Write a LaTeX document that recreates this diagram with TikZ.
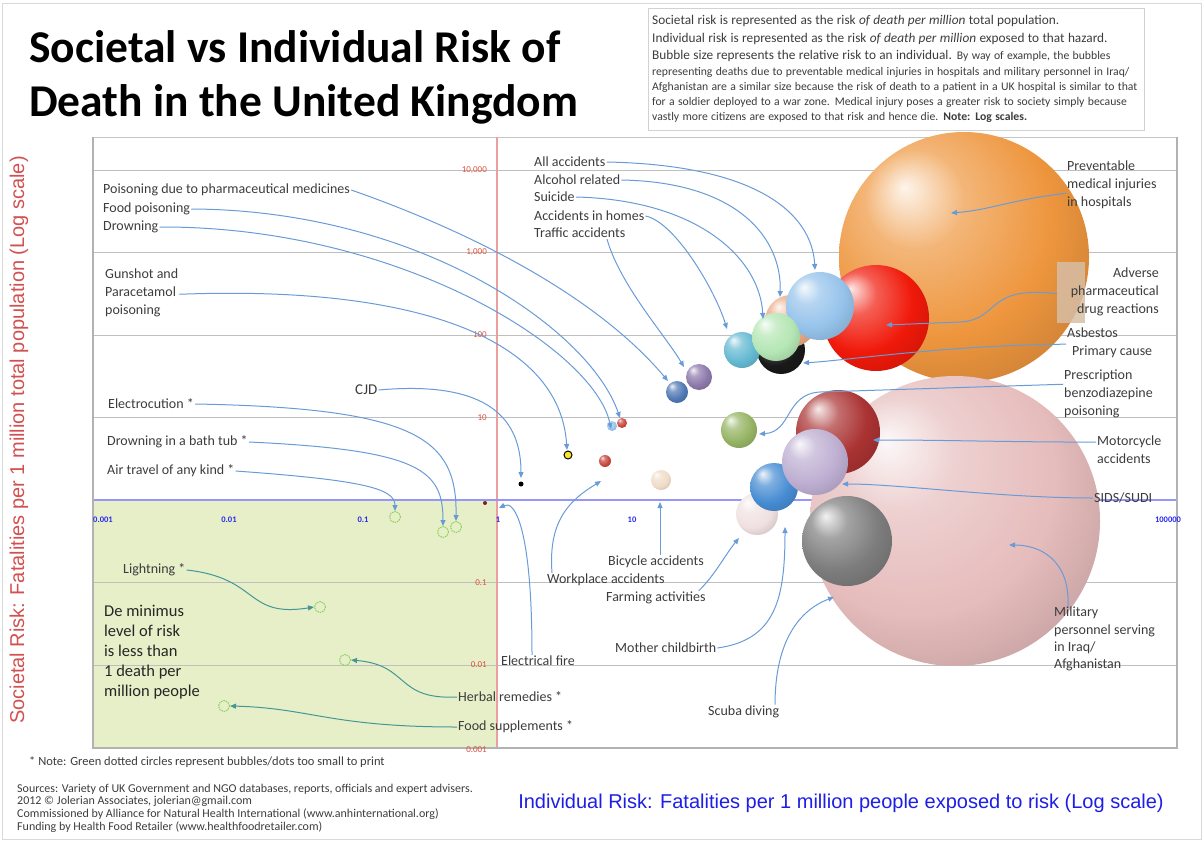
\documentclass[tikz,border=0pt]{standalone}
\usepackage{fontspec}
\setmainfont{Carlito}
\newfontfamily\arialfont{Liberation Sans}
\usetikzlibrary{arrows.meta}
\setlength{\parindent}{0pt}

\definecolor{arrblue}{RGB}{105,155,215}
\definecolor{arrteal}{RGB}{70,150,150}
\definecolor{dotgreen}{RGB}{140,210,90}
\definecolor{zonegreen}{RGB}{230,239,200}
\definecolor{axisblue}{RGB}{150,150,250}
\definecolor{axisred}{RGB}{235,160,160}
\definecolor{tickblue}{RGB}{40,40,240}
\definecolor{tickred}{RGB}{220,80,60}
\definecolor{ytitlered}{RGB}{210,80,80}
\definecolor{xtitleblue}{RGB}{30,30,230}
\definecolor{labeltext}{RGB}{60,60,60}
\definecolor{tanbox}{RGB}{215,190,165}
% bubble colours
\definecolor{cOrange}{RGB}{238,150,62}
\definecolor{cPink}{RGB}{230,188,188}
\definecolor{cRed}{RGB}{240,25,10}
\definecolor{cSky}{RGB}{150,195,235}
\definecolor{cPeach}{RGB}{235,170,130}
\definecolor{cMint}{RGB}{180,230,180}
\definecolor{cBlack}{RGB}{25,25,25}
\definecolor{cTeal}{RGB}{100,185,210}
\definecolor{cPurple}{RGB}{140,120,170}
\definecolor{cSteel}{RGB}{80,120,180}
\definecolor{cOlive}{RGB}{150,180,100}
\definecolor{cMaroon}{RGB}{170,50,50}
\definecolor{cLavender}{RGB}{190,175,210}
\definecolor{cBlue}{RGB}{70,140,210}
\definecolor{cShell}{RGB}{240,225,225}
\definecolor{cGrey}{RGB}{125,125,125}
\definecolor{cBeige}{RGB}{240,220,200}
\definecolor{cBrick}{RGB}{200,70,60}
\definecolor{cYellow}{RGB}{250,230,40}

\colorlet{bubcol}{cOrange}
\pgfdeclareradialshading[bubcol]{bubble}{\pgfqpoint{-12bp}{14bp}}{%
  color(0bp)=(bubcol!10!white); color(10bp)=(bubcol!70!white);
  color(24bp)=(bubcol); color(40bp)=(bubcol!80!black); color(56bp)=(bubcol!45!black)}

\tikzset{
  lbl/.style={font=\fontsize{14}{18}\selectfont, text=labeltext, inner sep=1pt, anchor=west},
  lblblock/.style={lbl, align=left, anchor=north west},
  arr/.style={draw=arrblue, line width=1pt, -{Triangle[length=6pt,width=5pt]}},
  arrg/.style={arr, draw=arrteal},
  gdot/.style={circle, draw=dotgreen, line width=1pt, dash pattern=on 1.6pt off 0.9pt,
    minimum size=11pt, inner sep=0pt},
  grid line/.style={draw=gray!50, line width=1pt},
  xtick/.style={font=\fontsize{8.5}{9}\selectfont\bfseries, text=tickblue, inner sep=0pt},
  ytick/.style={font=\fontsize{9}{10}\selectfont, text=tickred, inner sep=0pt, anchor=east},
  foot/.style={font=\fontsize{12}{13}\selectfont, text=labeltext, inner sep=0pt, anchor=west}
}

\begin{document}
\begin{tikzpicture}[x=1pt,y=-1pt]
\useasboundingbox (0,0) rectangle (1204,843);
\draw[gray!30] (2,3) rectangle (1201,839);

% title and note
\node[anchor=north west, align=left, inner sep=0pt,
      font=\fontsize{45.5}{54}\selectfont\bfseries] (title) at (29,30)
  {Societal vs Individual Risk of\\Death in the United Kingdom};
\node[draw=gray!35, anchor=north west, text width=488pt, minimum height=122pt,
      inner sep=4pt, align=left, text=labeltext] (note) at (648,8)
  {{\fontsize{13.3}{17.5}\selectfont Societal risk is represented as the risk \textit{of death per million} total population.\\
   Individual risk is represented as the risk \textit{of death per million} exposed to that hazard.\\
   Bubble size represents the relative risk to an individual. {\fontsize{11.7}{0}\selectfont By way of example, the bubbles}\par}
   {\fontsize{11.7}{15.3}\selectfont representing deaths due to preventable medical injuries in hospitals and military personnel in Iraq/\\
   Afghanistan are a similar size because the risk of death to a patient in a UK hospital is similar to that\\
   for a soldier deployed to a war zone. Medical injury poses a greater risk to society simply because\\
   vastly more citizens are exposed to that risk and hence die. \textbf{Note: Log scales.}\par}};

% plot area
\fill[zonegreen] (93,500) rectangle (497,748);
\foreach \gy in {170,252.5,335,417.5,582.5,665}
  \draw[grid line] (93,\gy) -- (1177,\gy);
\draw[gray!45, line width=0.8pt] (93,137) -- (1177,137);
\draw[axisred, line width=1.5pt] (497,137) -- (497,748);
\draw[axisblue, line width=2.5pt] (93,500) -- (1177,500);
\draw[gray!60, line width=2.5pt] (93,137) -- (93,748) -- (1177,748) -- (1177,137);

% axis ticks
\foreach \tx/\tl [count=\k] in {103/0.001, 229/0.01, 363/0.1, 498/1, 632/10,
    767/100, 901/{1,000}, 1035/{10,000}, 1168/100000}
  \node[xtick] (xt\k) at (\tx,520) {\tl};
\foreach \ty/\tl [count=\k] in {170/{10,000}, 252.5/{1,000}, 335/100, 417.5/10,
    582.5/0.1, 665/0.01, 750/0.001}
  \node[ytick] (yt\k) at (487,\ty) {\tl};

% axis titles
\node[rotate=90, font=\arialfont\fontsize{20}{22}\selectfont, text=ytitlered] (ytitle) at (19,440)
  {Societal Risk: Fatalities per 1 million total population (Log scale)};
\node[font=\arialfont\fontsize{20}{22}\selectfont, text=xtitleblue] (xtitle) at (841,803)
  {Individual Risk: Fatalities per 1 million people exposed to risk (Log scale)};

% bubbles, back to front
\foreach \bx/\by/\br/\bc in {964/257/125/cOrange, 955/521/145/cPink,
    876/318/53/cRed, 781/350/24/cBlack, 791/321/26/cPeach, 820/306/34/cSky,
    742/350/18/cTeal, 776/337/24/cMint, 699/377/13/cPurple, 677/392/11/cSteel,
    739/430/18/cOlive, 838/432/42/cMaroon, 757/514/21/cShell, 774/487/24/cBlue,
    815/462/33/cLavender, 847/541/45/cGrey, 661/480/10/cBeige, 605/461/6/cBrick,
    612/426/5/cSky, 622/423/5/cBrick}
  {\colorlet{bubcol}{\bc}
   \shade[shading=bubble] (\bx,\by) circle (\br pt);}
\filldraw[fill=cYellow, draw=black, line width=1pt] (568,455) circle (4pt);
\fill[black] (521,484) circle (2.5pt);
\fill[cMaroon!70!black] (485,503) circle (2pt);
\node[fill=tanbox, opacity=.85, minimum width=28pt, minimum height=61pt, inner sep=0pt,
      anchor=north west] (advbox) at (1057,262) {};

% dots too small to print
\node[gdot] (dair) at (395,517) {};
\node[gdot] (dbath) at (443,532) {};
\node[gdot] (delec) at (456,527) {};
\node[gdot] (dlight) at (320,607) {};
\node[gdot] (dherb) at (345,660) {};
\node[gdot] (dsupp) at (224,706) {};

% arrow targets
\coordinate (tall) at (815,270);
\coordinate (talc) at (780,297);
\coordinate (tsui) at (763,319);
\coordinate (thome) at (727,329);
\coordinate (ttraf) at (684,367);
\coordinate (tpois) at (668,381);
\coordinate (tfood) at (620,418);
\coordinate (tdrown) at (611,429);
\coordinate (tgun) at (567,450);
\coordinate (tcjd) at (521,478);
\coordinate (tfire) at (499,508);
\coordinate (twork) at (601,481);
\coordinate (tbike) at (660,502);
\coordinate (tfarm) at (739,538);
\coordinate (tmother) at (785,527);
\coordinate (tscuba) at (834,597);
\coordinate (tprev) at (951,213);
\coordinate (tadv) at (886,325);
\coordinate (tasb) at (803,363);
\coordinate (tbenzo) at (759,434);
\coordinate (tmoto) at (873,440);
\coordinate (tsids) at (842,484);
\coordinate (tmil) at (1009,545);

% labels
\node[lbl] (lall) at (533,162) {All accidents};
\node[lbl] (lalc) at (533,180) {Alcohol related};
\node[lbl] (lsui) at (533,197) {Suicide};
\node[lbl] (lhome) at (533,216) {Accidents in homes};
\node[lbl] (ltraf) at (533,233) {Traffic accidents};
\node[lbl] (lpois) at (102,190) {Poisoning due to pharmaceutical medicines};
\node[lbl] (lfood) at (102,209) {Food poisoning};
\node[lbl] (ldrown) at (102,227) {Drowning};
\node[lblblock] (lgun) at (104,268) {Gunshot and\\Paracetamol\\poisoning};
\node[lbl, font=\fontsize{15}{16}\selectfont] (lcjd) at (354,390) {CJD};
\node[lbl] (lelec) at (107,404) {Electrocution *};
\node[lbl] (lbath) at (106,442) {Drowning in a bath tub *};
\node[lbl] (lair) at (106,471) {Air travel of any kind *};
\node[lbl] (llight) at (122,570) {Lightning *};
\node[lblblock, font=\fontsize{16.5}{20}\selectfont, text=black!85] (lmin) at (103,604)
  {De minimus\\level of risk\\is less than\\1 death per\\million people};
\node[lbl] (lherb) at (457,697) {Herbal remedies *};
\node[lbl] (lsupp) at (457,727) {Food supplements *};
\node[lbl] (lfire) at (500,661) {Electrical fire};
\node[lbl] (lwork) at (546,580) {Workplace accidents};
\node[lbl] (lbike) at (607,562) {Bicycle accidents};
\node[lbl] (lfarm) at (605,598) {Farming activities};
\node[lbl] (lmother) at (614,648) {Mother childbirth};
\node[lbl] (lscuba) at (707,712) {Scuba diving};
\node[lblblock] (lprev) at (1066,160) {Preventable\\medical injuries\\in hospitals};
\node[lblblock, align=right, anchor=north east] (ladv) at (1160,267) {Adverse\\pharmaceutical\\drug reactions};
\node[lblblock] (lasb) at (1066,327) {Asbestos\\\hspace*{5pt}Primary cause};
\node[lblblock] (lbenzo) at (1063,369) {Prescription\\benzodiazepine\\poisoning};
\node[lblblock] (lmoto) at (1096,435) {Motorcycle\\accidents};
\node[lbl] (lsids) at (1093,498) {SIDS/SUDI};
\node[lblblock, font=\fontsize{14}{17.3}\selectfont] (lmil) at (1053,606) {Military\\personnel serving\\in Iraq/\\Afghanistan};

% connectors
\draw[arr] (lall.east) .. controls (760,165) and (812,215) .. (tall);
\draw[arr] (lalc.east) .. controls (740,182) and (782,240) .. (talc);
\draw[arr] (lsui.east) .. controls (700,200) and (760,260) .. (tsui);
\draw[arr] (lhome.east) .. controls (675,222) and (715,290) .. (thome);
\draw[arr] ([xshift=74pt]ltraf.south west) .. controls (620,285) and (665,335) .. (ttraf);
\draw[arr] (lpois.east) .. controls (480,235) and (600,300) .. (tpois);
\draw[arr] (lfood.east) .. controls (420,210) and (590,330) .. (tfood);
\draw[arr] (ldrown.east) .. controls (400,226) and (595,350) .. (tdrown);
\draw[arr] ([yshift=-1pt]lgun.east) .. controls (420,285) and (560,340) .. (tgun);
\draw[arr] (lcjd.east) .. controls (490,380) and (521,420) .. (tcjd);
\draw[arr] (lelec.east) .. controls (420,408) and (457,440) .. (delec.north);
\draw[arr] (lbath.east) .. controls (420,450) and (443,470) .. (dbath.north);
\draw[arr] (lair.east) .. controls (360,480) and (395,488) .. (dair.north);
\draw[arrg] (llight.east) .. controls (260,578) and (245,618) .. (dlight.west);
\draw[arrg] (lherb.west) .. controls (395,700) and (410,665) .. (dherb.east);
\draw[arrg] (lsupp.west) .. controls (330,727) and (310,708) .. (dsupp.east);
\draw[arr] ([xshift=32pt]lfire.north west) .. controls (532,530) and (515,500) .. (tfire);
\draw[arr] ([xshift=6pt]lwork.north west) .. controls (548,520) and (570,500) .. (twork);
\draw[arr] (lbike.north -| tbike) -- (tbike);
\draw[arr] ([xshift=-8pt]lfarm.north east) .. controls (715,575) and (725,555) .. (tfarm);
\draw[arr] (lmother.east) .. controls (775,640) and (785,600) .. (tmother);
\draw[arr] ([xshift=68pt]lscuba.north west) .. controls (775,640) and (800,610) .. (tscuba);
\draw[arr] ([yshift=-8pt]lprev.west) .. controls (1010,200) and (990,210) .. (tprev);
\draw[arr] ([yshift=-1pt]advbox.west) .. controls (985,285) and (1000,320) .. (960,322) -- (tadv);
\draw[arr] ([yshift=-1pt]lasb.west) .. controls (950,345) and (850,360) .. (tasb);
\draw[arr] ([yshift=10pt]lbenzo.west) -- (820,392) .. controls (785,394) and (792,432) .. (tbenzo);
\draw[arr] ([yshift=8pt]lmoto.west) .. controls (1000,442) and (950,440) .. (tmoto);
\draw[arr] (lsids.west) .. controls (1000,498) and (900,484) .. (tsids);
\draw[arr] ([xshift=15pt]lmil.north west) .. controls (1070,560) and (1040,545) .. (tmil);

% footer
\node[foot, font=\fontsize{12.5}{13}\selectfont] (fnote) at (29,762) {* Note: Green dotted circles represent bubbles/dots too small to print};
\node[foot] (fsrc) at (17,789) {Sources: Variety of UK Government and NGO databases, reports, officials and expert advisers.};
\node[foot] (fcopy) at (17,801) {2012 \textcopyright{} Jolerian Associates, jolerian@gmail.com};
\node[foot] (fcomm) at (17,814) {Commissioned by Alliance for Natural Health International (www.anhinternational.org)};
\node[foot] (ffund) at (17,827) {Funding by Health Food Retailer (www.healthfoodretailer.com)};
\end{tikzpicture}
\end{document}
